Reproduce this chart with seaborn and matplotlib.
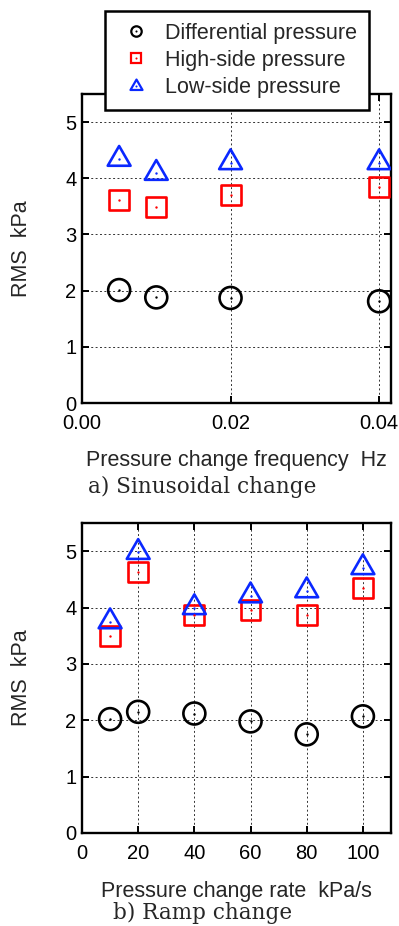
import numpy as np
import pandas as pd
import matplotlib
matplotlib.use("Agg")
import matplotlib.pyplot as plt
from matplotlib.lines import Line2D
from matplotlib.path import Path
import seaborn as sns

# ---- data ----
freq = [0.005, 0.01, 0.02, 0.04]
sin_diff = [2.01, 1.88, 1.87, 1.81]
sin_high = [3.61, 3.49, 3.70, 3.84]
sin_low = [4.34, 4.09, 4.28, 4.28]

rate = [10, 20, 40, 60, 80, 100]
ramp_diff = [2.02, 2.15, 2.12, 1.98, 1.75, 2.07]
ramp_high = [3.49, 4.63, 3.87, 3.96, 3.87, 4.34]
ramp_low = [3.75, 4.98, 4.00, 4.21, 4.30, 4.71]

series_names = ["Differential pressure", "High-side pressure", "Low-side pressure"]
sin_xticks = [0.00, 0.02, 0.04]
sin_xticklabels = ["0.00", "0.02", "0.04"]
ramp_xticks = [0, 20, 40, 60, 80, 100]
yticks = [0, 1, 2, 3, 4, 5]

sns.set_theme(style="white")
plt.rcParams["font.family"] = ["Liberation Sans", "DejaVu Sans"]

W, H = 399, 926
fig = plt.figure(figsize=(W / 100, H / 100), dpi=100)

tri = Path([(0, 2), (-np.sqrt(3), -1), (np.sqrt(3), -1), (0, 2)],
           [Path.MOVETO, Path.LINETO, Path.LINETO, Path.CLOSEPOLY])

styles = {
    "Differential pressure": dict(marker="o", s=250, color="black"),
    "High-side pressure": dict(marker="s", s=205, color="#ff0000"),
    "Low-side pressure": dict(marker=tri, s=360, color="#0a28ff"),
}


def panel(rect, x, ys, xlim, xticks, xticklabels, xlabel, labelpad):
    ax = fig.add_axes(rect)
    df = pd.DataFrame({"x": np.tile(x, 3),
                       "y": np.concatenate(ys),
                       "series": np.repeat(series_names, len(x))})
    for name in series_names:
        sub = df[df["series"] == name]
        st = styles[name]
        sns.scatterplot(data=sub, x="x", y="y", ax=ax, marker=st["marker"], s=st["s"],
                        facecolors="none", edgecolor=st["color"], linewidth=1.9,
                        zorder=3, legend=False)
        sns.scatterplot(data=sub, x="x", y="y", ax=ax, marker="o", s=3,
                        color=st["color"], linewidth=0, zorder=4, legend=False)
    ax.set_xlim(*xlim)
    ax.set_ylim(0, 5.5)
    ax.set_xticks(xticks)
    ax.set_xticklabels(xticklabels)
    ax.set_yticks(yticks)
    ax.grid(True, color="#333333", linestyle=(0, (2, 2.5)), linewidth=0.7)
    ax.set_axisbelow(True)
    for sp in ax.spines.values():
        sp.set_visible(True)
        sp.set_linewidth(1.7)
        sp.set_color("black")
    ax.tick_params(direction="in", length=5, width=1.4, top=True, right=True,
                   bottom=True, left=True, labelsize=14.5, colors="black")
    ax.tick_params(axis="y", pad=4)
    ax.tick_params(axis="x", pad=8)
    ax.set_xlabel(xlabel, fontsize=15.5, labelpad=labelpad)
    ax.set_ylabel("RMS  kPa", fontsize=15.5, labelpad=24)
    return ax


ax1 = panel([82 / W, 1 - 403 / H, 309 / W, 309 / H], freq,
            [sin_diff, sin_high, sin_low], (0, 0.0416),
            sin_xticks, sin_xticklabels, "Pressure change frequency  Hz", 12)
ax2 = panel([82 / W, 1 - 833 / H, 309 / W, 310 / H], rate,
            [ramp_diff, ramp_high, ramp_low], (0, 110),
            ramp_xticks, [str(v) for v in ramp_xticks], "Pressure change rate  kPa/s", 13)

fig.text(202 / W, 1 - 493 / H, "a) Sinusoidal change", ha="center", va="baseline",
         fontsize=15.5, family=["DejaVu Serif"])
fig.text(203 / W, 1 - 919 / H, "b) Ramp change", ha="center", va="baseline",
         fontsize=15.5, family=["DejaVu Serif"])

handles = []
for name in series_names:
    st = styles[name]
    big = Line2D([], [], marker=st["marker"],
                 markersize=7.5 if name != "Low-side pressure" else 10,
                 mfc="none", mec=st["color"], mew=1.6, ls="none")
    dot = Line2D([], [], marker="o", markersize=1.5, mfc=st["color"], mec="none", ls="none")
    handles.append((big, dot))

leg = fig.legend(handles, series_names, loc="center",
                 bbox_to_anchor=(237 / W, 1 - 60.5 / H), fontsize=15.5,
                 frameon=True, fancybox=False, framealpha=1, edgecolor="black",
                 borderpad=0.55, handlelength=1.75, handletextpad=0.45,
                 labelspacing=0.3, borderaxespad=0)
leg.get_frame().set_linewidth(1.8)

fig.savefig("out.png", dpi=100)
